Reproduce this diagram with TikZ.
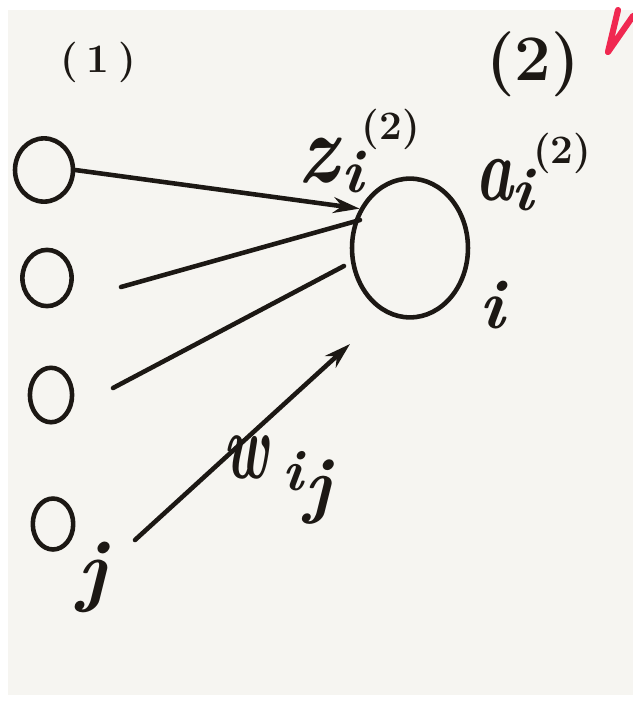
\documentclass[tikz,border=0pt]{standalone}
\usetikzlibrary{shapes.geometric,arrows.meta}
\definecolor{paper}{RGB}{246,245,241}
\definecolor{ink}{RGB}{28,24,20}
\definecolor{redmark}{RGB}{240,40,80}
\newcommand{\fs}[1]{\fontsize{#1}{#1}\selectfont}
\tikzset{
  neuron/.style={ellipse,draw=ink,line width=2.6pt,inner sep=0pt},
  wire/.style={draw=ink,line width=2.6pt,line cap=round},
  tip/.style={-{Stealth[length=15pt,width=9pt]}},
  hand/.style={text=ink,inner sep=0pt},
}
\begin{document}
\begin{tikzpicture}[x=0.02cm,y=-0.02cm]
\useasboundingbox (0,0) rectangle (633,701);
\fill[white] (0,0) rectangle (633,701);
\fill[paper] (8,10) rectangle (633,695);
% red mark
\draw[redmark,line width=3.5pt,line cap=round,line join=round] (618,10) -- (608,52) -- (633,16);
% layer labels
\node[hand,font=\fs{23}\bfseries] (l1) at (98,62) {(\hspace{5pt}1\hspace{5pt})};
\node[hand,font=\fs{37}\bfseries] (l2) at (533,64) {(2)};
% input neurons
\node[neuron,minimum width=33pt,minimum height=36pt] (n1) at (44,170) {};
\node[neuron,minimum width=28pt,minimum height=32pt] (n2) at (47,278) {};
\node[neuron,minimum width=24pt,minimum height=31pt] (n3) at (51,395) {};
\node[neuron,minimum width=23pt,minimum height=29pt] (n4) at (53,524) {};
\node[hand,font=\fs{46}\bfseries\itshape,anchor=base] (j) at (92,596) {j};
% output neuron
\node[neuron,minimum width=66pt,minimum height=79pt] (out) at (410,248) {};
% labels
\node[hand,anchor=base west] (z) at (298,182) {\bfseries\itshape\scalebox{0.82}[1]{\fs{56}z}\hspace{2pt}\raisebox{-6pt}{\fs{35}i}\hspace{-1pt}\raisebox{24pt}{\upshape\fs{23}(2)}};
\node[hand,anchor=base west] (a) at (475,200) {\bfseries\itshape\scalebox{0.7}[1]{\fs{52}a}\hspace{-1pt}\raisebox{-6pt}{\fs{35}i}\hspace{0pt}\raisebox{21pt}{\upshape\fs{23}(2)}};
\node[hand,font=\fs{40}\bfseries\itshape,anchor=base] (i) at (492,328) {i};
\node[hand,anchor=base west] (w) at (223,478) {\bfseries\itshape\scalebox{0.62}[1]{\fs{54}w}\hspace{8pt}\raisebox{-7pt}{\fs{33}i}\hspace{1pt}\raisebox{-18pt}{\fs{42}j}};
% connectors
\coordinate (s2) at (121,287);
\coordinate (e2) at (360,220);
\coordinate (s3) at (113,388);
\coordinate (e3) at (344,266);
\coordinate (s4) at (135,540);
\coordinate (e4) at (350,344);
\draw[wire,tip] (n1.east) -- (out.142);
\draw[wire] (s2) -- (e2);
\draw[wire] (s3) -- (e3);
\draw[wire,tip] (s4) -- (e4);
\end{tikzpicture}
\end{document}
